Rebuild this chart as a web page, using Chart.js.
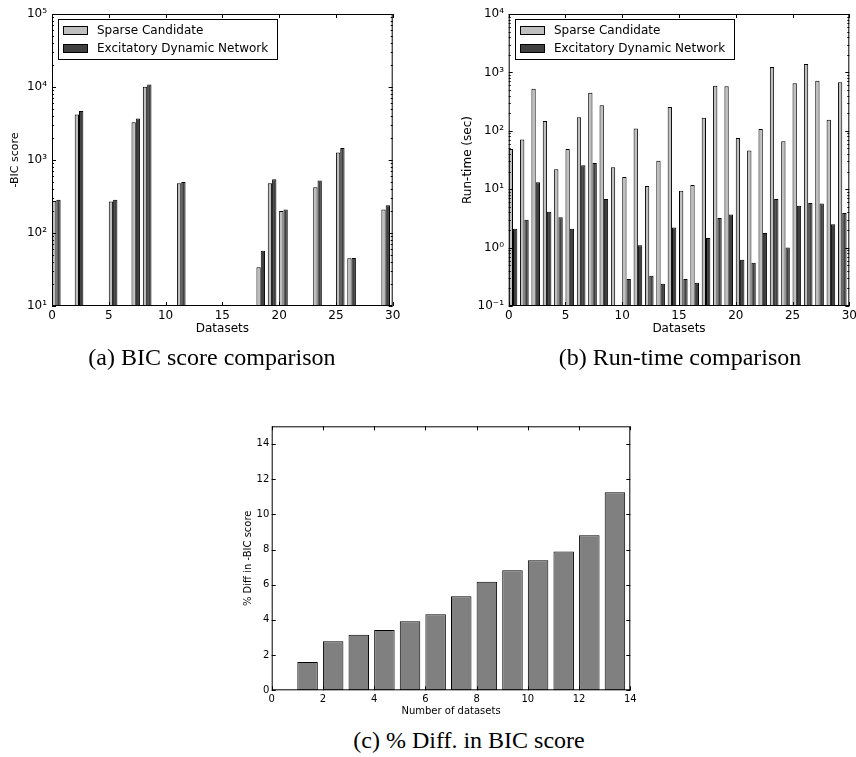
<!DOCTYPE html>
<html>
<head>
<meta charset="utf-8">
<script src="https://cdn.jsdelivr.net/npm/chart.js@4"></script>
<style>
  body { margin: 0; background: #fff; width: 856px; height: 757px; position: relative; overflow: hidden; }
  canvas { position: absolute; }
  .cap { position: absolute; font-family: "Liberation Serif", serif; font-size: 24px; line-height: 28px; color: #000; text-align: center; white-space: nowrap; }
</style>
</head>
<body>
<canvas id="chartA" width="420" height="345" style="left:0px;top:0px"></canvas>
<canvas id="chartB" width="426" height="345" style="left:430px;top:0px"></canvas>
<canvas id="chartC" width="420" height="325" style="left:230px;top:400px"></canvas>
<div class="cap" style="left:0px;width:424px;top:343px">(a) BIC score comparison</div>
<div class="cap" style="left:480px;width:400px;top:343px">(b) Run-time comparison</div>
<div class="cap" style="left:269px;width:400px;top:726px">(c) % Diff. in BIC score</div>
<script>
// 데이터셋 번호
const datasetIdx = [0, 1, 2, 3, 4, 5, 6, 7, 8, 9, 10, 11, 12, 13, 14, 15, 16, 17, 18, 19, 20, 21, 22, 23, 24, 25, 26, 27, 28, 29];

// (a) -BIC score (없는 값은 null)
const bicSparse = [275, null, 4200, null, null, 270, null, 3300, 10100, null, null, 480, null, null, null,
    null, null, null, 34, 480, 200, null, null, 425, null, 1270, 45, null, null, 210];
const bicEdn = [285, null, 4700, null, null, 285, null, 3700, 10800, null, null, 500, null, null, null,
    null, null, null, 57, 545, 210, null, null, 525, null, 1460, 45.5, null, null, 240];

// (b) Run-time (sec)
const timeSparse = [49, 71, 525, 147, 22, 49, 170, 450, 273, 23.7, 16.2, 110, 11.3, 30.8, 256,
    9.4, 11.8, 168, 593, 577, 75, 46, 107, 1237, 66, 650, 1393, 721, 155, 676];
const timeEdn = [2.1, 3.0, 13.1, 4.1, 3.3, 2.1, 25.6, 28, 6.8, null, 0.29, 1.1, 0.33, 0.24, 2.2,
    0.29, 0.25, 1.46, 3.2, 3.7, 0.62, 0.55, 1.78, 6.8, 1.0, 5.2, 5.8, 5.7, 2.5, 3.9];

// (c) % Diff in -BIC score
const diffCounts = [1, 2, 3, 4, 5, 6, 7, 8, 9, 10, 11, 12, 13];
const diffPct = [1.61, 2.78, 3.16, 3.43, 3.92, 4.32, 5.34, 6.17, 6.82, 7.39, 7.88, 8.81, 11.25];

// 축 눈금
const pairTicksX = [0, 5, 10, 15, 20, 25, 30];
const bicTicksY = [10, 100, 1000, 10000, 100000];
const timeTicksY = [0.1, 1, 10, 100, 1000, 10000];
const diffTicksX = [0, 2, 4, 6, 8, 10, 12, 14];
const diffTicksY = [0, 2, 4, 6, 8, 10, 12, 14];

const seriesNames = ['Sparse Candidate', 'Excitatory Dynamic Network'];

Chart.defaults.font.family = '"DejaVu Sans"';
Chart.defaults.color = '#000';

// 10^n 라벨
const supDigits = { '-': '⁻', '0': '⁰', '1': '¹', '2': '²', '3': '³', '4': '⁴', '5': '⁵' };
function powLabel(v) {
    const e = Math.round(Math.log10(v));
    return '10' + String(e).split('').map(c => supDigits[c]).join('');
}

// 테두리 + 안쪽 눈금 (matplotlib 스타일)
const framePlugin = {
    id: 'frame',
    afterDraw(chart) {
        const { ctx, chartArea: a, scales } = chart;
        const xs = scales.x, ys = scales.y;
        ctx.save();
        ctx.strokeStyle = '#000';
        ctx.lineWidth = 1;
        ctx.beginPath();
        xs.ticks.forEach(t => {
            const p = Math.round(xs.getPixelForValue(t.value)) + 0.5;
            ctx.moveTo(p, a.bottom); ctx.lineTo(p, a.bottom - 4);
            ctx.moveTo(p, a.top); ctx.lineTo(p, a.top + 4);
        });
        const yTick = (v, len) => {
            const p = Math.round(ys.getPixelForValue(v)) + 0.5;
            ctx.moveTo(a.left, p); ctx.lineTo(a.left + len, p);
            ctx.moveTo(a.right, p); ctx.lineTo(a.right - len, p);
        };
        ys.ticks.forEach(t => yTick(t.value, 4));
        if (ys.type === 'logarithmic') {
            for (let d = ys.min; d < ys.max * 0.99; d *= 10) {
                for (let k = 2; k <= 9; k++) yTick(k * d, 2);
            }
        }
        ctx.stroke();
        ctx.strokeRect(a.left + 0.5, a.top + 0.5, a.width - 1, a.height - 1);
        ctx.restore();
    }
};

// 플롯 안쪽 범례 박스
const boxLegendPlugin = {
    id: 'boxLegend',
    afterDraw(chart) {
        const { ctx, chartArea: a } = chart;
        const sets = chart.data.datasets;
        ctx.save();
        ctx.font = '12px "DejaVu Sans"';
        const textW = Math.max(...sets.map(s => ctx.measureText(s.label).width));
        const x0 = Math.round(a.left + 6), y0 = Math.round(a.top + 5);
        const w = Math.round(39 + textW + 9), h = 40;
        ctx.fillStyle = '#fff';
        ctx.fillRect(x0, y0, w, h);
        ctx.strokeStyle = '#000';
        ctx.lineWidth = 1;
        ctx.strokeRect(x0 + 0.5, y0 + 0.5, w, h);
        sets.forEach((s, i) => {
            const cy = Math.round(y0 + 11 + i * 17.7);
            ctx.fillStyle = s.backgroundColor;
            ctx.fillRect(x0 + 5, cy - 4, 24, 8);
            ctx.strokeRect(x0 + 5.5, cy - 3.5, 24, 8);
            ctx.fillStyle = '#000';
            ctx.textBaseline = 'middle';
            ctx.fillText(s.label, x0 + 39, cy + 1);
        });
        ctx.restore();
    }
};

function pairData(values) {
    return datasetIdx.map((d, i) => ({ x: d + 0.38, y: values[i] }));
}

function barSet(label, values, color) {
    return {
        label: label,
        data: pairData(values),
        backgroundColor: color,
        borderColor: '#000',
        borderWidth: 1,
        borderSkipped: false,
        categoryPercentage: 0.76,
        barPercentage: 1.0
    };
}

// (a), (b) 로그 막대 차트
function drawLogChart(id, sparse, edn, yTicks, yTitle, cfg) {
    const ctx = document.getElementById(id).getContext('2d');
    return new Chart(ctx, {
        type: 'bar',
        data: {
            datasets: [
                barSet(seriesNames[0], sparse, '#bfbfbf'),
                barSet(seriesNames[1], edn, '#404040')
            ]
        },
        options: {
            responsive: false,
            animation: false,
            layout: { padding: { left: 0, top: 14, right: cfg.padRight, bottom: 1 } },
            plugins: { legend: { display: false }, tooltip: { enabled: false } },
            scales: {
                x: {
                    type: 'linear',
                    min: 0, max: 30,
                    offset: false,
                    grid: { display: false, drawTicks: false, offset: false },
                    border: { display: false },
                    afterBuildTicks: s => { s.ticks = pairTicksX.map(v => ({ value: v })); },
                    afterFit: s => { s.height = 38; s.paddingRight = 0; s.paddingLeft = 0; },
                    ticks: { padding: 3, maxRotation: 0, font: { size: 12 } },
                    title: { display: true, text: 'Datasets', font: { size: 12 }, padding: { bottom: 7.5, top: 0 } }
                },
                y: {
                    type: 'logarithmic',
                    min: yTicks[0], max: yTicks[yTicks.length - 1],
                    grid: { display: false, drawTicks: false },
                    border: { display: false },
                    afterBuildTicks: s => { s.ticks = yTicks.map(v => ({ value: v })); },
                    afterFit: s => { s.width = cfg.axisW; s.paddingTop = 0; s.paddingBottom = 0; },
                    ticks: { padding: cfg.tickPad, font: { size: 12 }, callback: v => powLabel(v) },
                    title: { display: true, text: yTitle, font: { size: cfg.titleSize }, padding: { top: cfg.titlePad, bottom: 0 } }
                }
            }
        },
        plugins: [framePlugin, boxLegendPlugin]
    });
}

// (c) 차이 막대 차트
function drawDiffChart() {
    const ctx = document.getElementById('chartC').getContext('2d');
    return new Chart(ctx, {
        type: 'bar',
        data: {
            datasets: [{
                label: '% Diff in -BIC score',
                data: diffCounts.map((n, i) => ({ x: n + 0.4, y: diffPct[i] })),
                backgroundColor: '#808080',
                borderColor: '#000',
                borderWidth: 1,
                borderSkipped: false,
                categoryPercentage: 0.8,
                barPercentage: 1.0
            }]
        },
        options: {
            responsive: false,
            animation: false,
            layout: { padding: { left: 0, top: 26.3, right: 19.7, bottom: 4.7 } },
            plugins: { legend: { display: false }, tooltip: { enabled: false } },
            scales: {
                x: {
                    type: 'linear',
                    min: 0, max: 14,
                    offset: false,
                    grid: { display: false, drawTicks: false, offset: false },
                    border: { display: false },
                    afterBuildTicks: s => { s.ticks = diffTicksX.map(v => ({ value: v })); },
                    afterFit: s => { s.height = 30; s.paddingRight = 0; s.paddingLeft = 0; },
                    ticks: { padding: 3, maxRotation: 0, font: { size: 10 } },
                    title: { display: true, text: 'Number of datasets', font: { size: 10 }, padding: { bottom: 2.6, top: 0 } }
                },
                y: {
                    min: 0, max: 15,
                    grid: { display: false, drawTicks: false },
                    border: { display: false },
                    afterBuildTicks: s => { s.ticks = diffTicksY.map(v => ({ value: v })); },
                    afterFit: s => { s.width = 41.7; s.paddingTop = 0; s.paddingBottom = 0; },
                    ticks: { padding: 2.4, font: { size: 10 } },
                    title: { display: true, text: '% Diff in -BIC score', font: { size: 10 }, padding: { top: 12, bottom: 0 } }
                }
            }
        },
        plugins: [framePlugin]
    });
}

document.addEventListener('DOMContentLoaded', () => {
    drawLogChart('chartA', bicSparse, bicEdn, bicTicksY, '-BIC score',
        { axisW: 52, padRight: 27.3, tickPad: 5, titlePad: 8.4, titleSize: 11 });
    drawLogChart('chartB', timeSparse, timeEdn, timeTicksY, 'Run-time (sec)',
        { axisW: 78.7, padRight: 6.7, tickPad: 4.7, titlePad: 30.8, titleSize: 12 });
    drawDiffChart();
});
</script>
</body>
</html>
